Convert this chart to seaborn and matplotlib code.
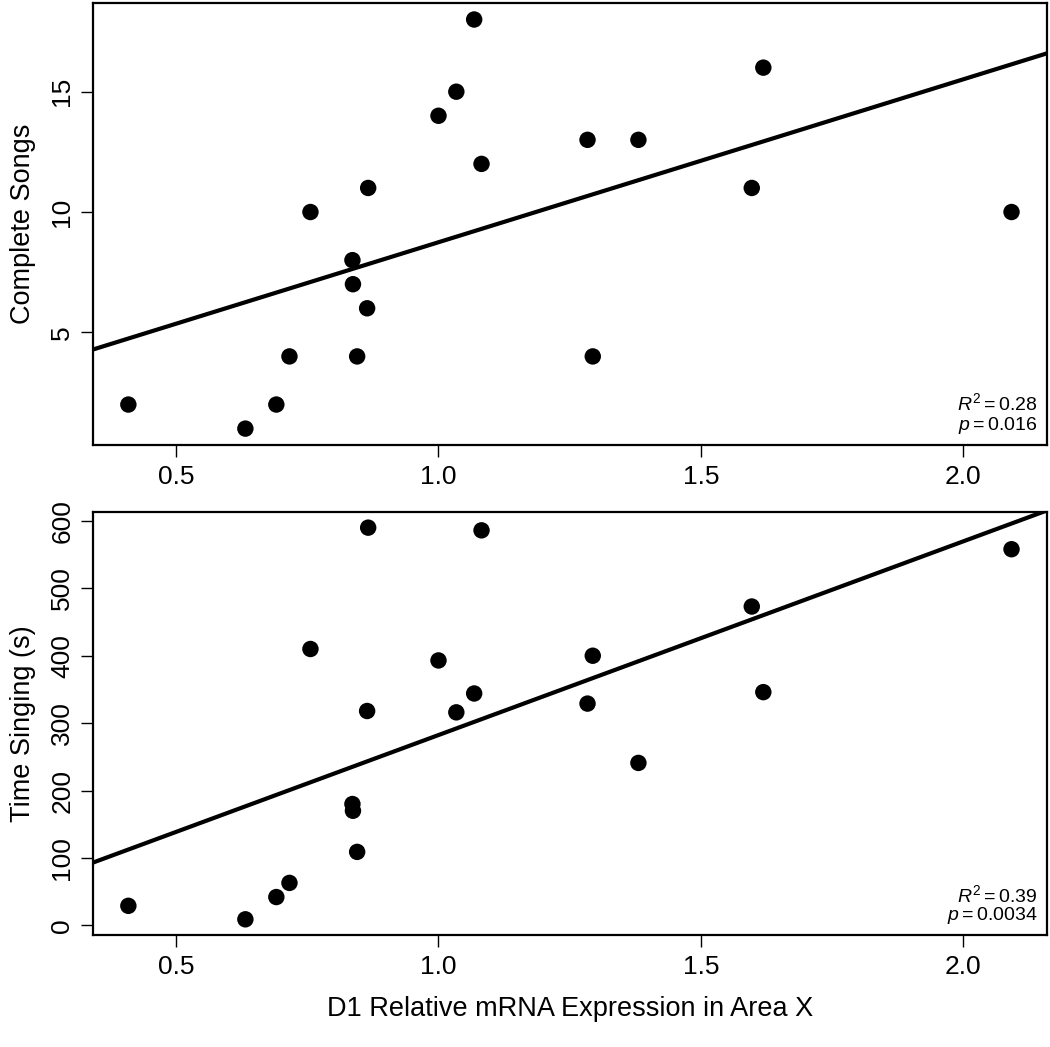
import matplotlib
matplotlib.use("Agg")
import matplotlib.pyplot as plt
import seaborn as sns
import numpy as np
import pandas as pd

# ---- data ----
expression = [0.409, 0.632, 0.691, 0.716, 0.756, 0.836, 0.837, 0.845, 0.864, 0.866,
              1.000, 1.034, 1.068, 1.082, 1.284, 1.294, 1.381, 1.597, 1.619, 2.092]
complete_songs = [2, 1, 2, 4, 10, 8, 7, 4, 6, 11, 14, 15, 18, 12, 13, 4, 13, 11, 16, 10]
time_singing = [29, 9, 42, 63, 410, 180, 170, 109, 318, 590,
                393, 316, 344, 586, 329, 400, 241, 473, 346, 558]
x_ticks = [0.5, 1.0, 1.5, 2.0]
top_yticks = [5, 10, 15]
bottom_yticks = [0, 100, 200, 300, 400, 500, 600]
top_stats = ["$R^2 = 0.28$", "$p = 0.016$"]
bottom_stats = ["$R^2 = 0.39$", "$p = 0.0034$"]

df = pd.DataFrame({"expr": expression, "songs": complete_songs, "time": time_singing})

sns.set_style("ticks")
plt.rcParams["font.family"] = ["Liberation Sans", "DejaVu Sans"]
plt.rcParams["mathtext.fontset"] = "custom"
plt.rcParams["mathtext.rm"] = "Liberation Sans"
plt.rcParams["mathtext.it"] = "Liberation Sans:italic"
plt.rcParams["mathtext.default"] = "it"
plt.rcParams["text.color"] = "black"
plt.rcParams["axes.labelcolor"] = "black"

fig = plt.figure(figsize=(10.5, 10.47), dpi=100)
ax1 = fig.add_axes([0.0886, 0.575, 0.9084, 0.422])
ax2 = fig.add_axes([0.0886, 0.107, 0.9084, 0.404])


def rlim(vals):
    lo, hi = min(vals), max(vals)
    r = hi - lo
    return lo - 0.04 * r, hi + 0.04 * r


for ax, col, yt, ylabel, stats in [
    (ax1, "songs", top_yticks, "Complete Songs", top_stats),
    (ax2, "time", bottom_yticks, "Time Singing (s)", bottom_stats),
]:
    ax.set_xlim(*rlim(expression))
    ax.set_ylim(*rlim(df[col]))
    sns.regplot(data=df, x="expr", y=col, ax=ax, ci=None, truncate=False,
                scatter_kws=dict(s=140, color="black", edgecolor="none", alpha=1),
                line_kws=dict(color="black", lw=3))
    ax.set_xlim(*rlim(expression))
    ax.set_ylim(*rlim(df[col]))
    ax.set_xticks(x_ticks)
    ax.set_xticklabels([f"{v:.1f}" for v in x_ticks])
    ax.set_yticks(yt)
    ax.set_yticklabels([str(v) for v in yt])
    for s in ax.spines.values():
        s.set_visible(True)
        s.set_linewidth(1.6)
        s.set_color("black")
    ax.tick_params(axis="both", length=8.5, width=1.0, labelsize=19, pad=6,
                   colors="black", direction="out")
    ax.tick_params(axis="y", labelrotation=90, pad=5)
    for lab in ax.get_yticklabels():
        lab.set_va("center")
    ax.set_ylabel(ylabel, fontsize=19.5, labelpad=10)
    ax.set_xlabel("")
    ax.text(0.99, 0.095, stats[0], transform=ax.transAxes, ha="right", va="center",
            fontsize=14)
    ax.text(0.99, 0.045, stats[1], transform=ax.transAxes, ha="right", va="center",
            fontsize=14)

ax2.set_xlabel("D1 Relative mRNA Expression in Area X", fontsize=19.5, labelpad=12)

fig.savefig("out.png", dpi=100, facecolor="white")
